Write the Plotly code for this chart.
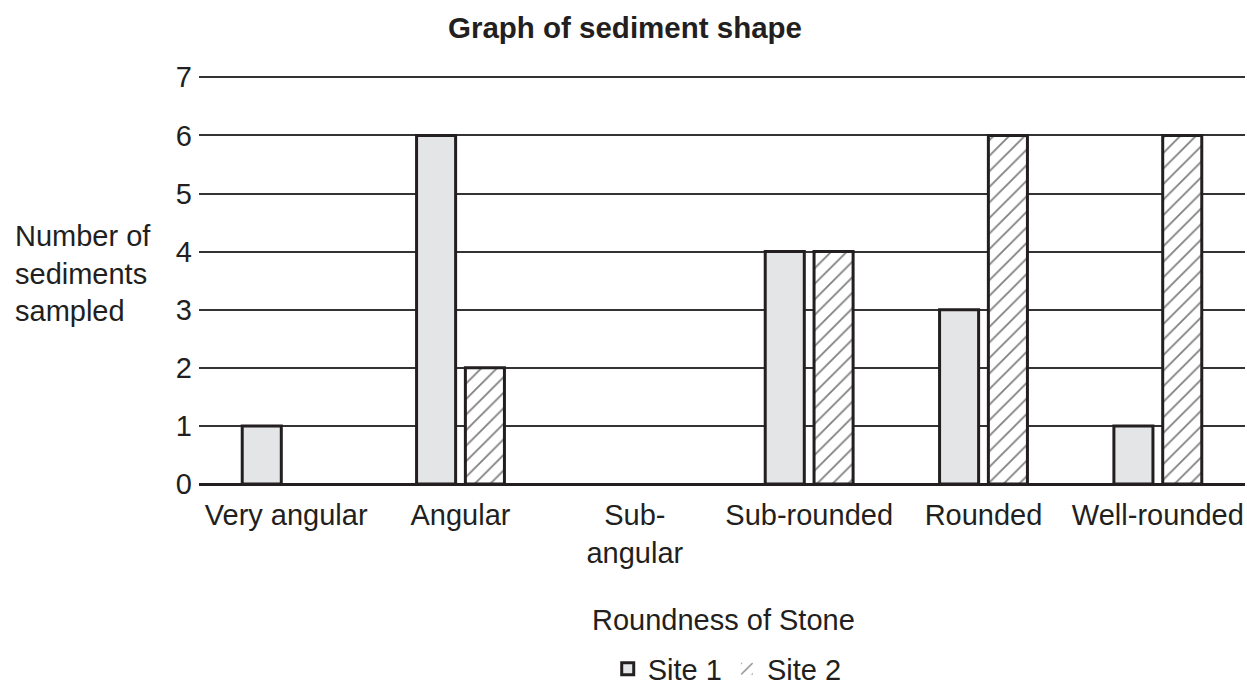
import plotly.graph_objects as go

categories = ["Very angular", "Angular", "Sub-<br>angular", "Sub-rounded", "Rounded", "Well-rounded"]
site1 = [1, 6, 0, 4, 3, 1]
site2 = [0, 2, 0, 4, 6, 6]
y_ticks = [0, 1, 2, 3, 4, 5, 6, 7]

font_family = "Liberation Sans, Arial, sans-serif"
ink = "#231f20"
fs = 29

def outline_widths(vals):
    return [0 if v == 0 else 3 for v in vals]

fig = go.Figure()
fig.add_trace(go.Bar(
    x=categories, y=site1, name="Site 1",
    marker=dict(color="#e4e5e7", line=dict(color=ink, width=outline_widths(site1))),
))
fig.add_trace(go.Bar(
    x=categories, y=site2, name="Site 2",
    marker=dict(color="white", line=dict(color=ink, width=outline_widths(site2)),
                pattern=dict(shape="/", fgcolor="#000000", bgcolor="white", size=11, solidity=0.16)),
))

fig.update_layout(
    width=1247, height=697,
    margin=dict(l=199, r=2, t=75, b=206),
    paper_bgcolor="white", plot_bgcolor="white",
    font=dict(family=font_family, size=fs, color=ink),
    barmode="group", bargap=0.44, bargroupgap=0.2,
    title=dict(text="<b>Graph of sediment shape</b>", x=0.5012, xanchor="center",
               y=0.96, yanchor="middle", font=dict(size=29.5)),
    showlegend=True,
    legend=dict(orientation="h", x=0.505, xanchor="center", y=-0.452, yanchor="middle",
                font=dict(size=fs), tracegroupgap=0, traceorder="normal"),
    xaxis=dict(showgrid=False, showline=False, ticks="", tickfont=dict(size=fs),
               zeroline=False, range=[-0.5, 5.5], ticklabelstandoff=11),
    yaxis=dict(range=[0, 7.04], tickvals=y_ticks, showgrid=True, gridcolor="#333333", gridwidth=1.5,
               zeroline=True, zerolinecolor=ink, zerolinewidth=3,
               showline=False, ticks="", ticklabelstandoff=6, tickfont=dict(size=fs)),
)

fig.add_annotation(text="Number of<br>sediments<br>sampled", xref="paper", yref="paper",
                   x=-0.1778, xanchor="left", y=0.514, yanchor="middle", showarrow=False,
                   align="left", font=dict(size=fs))
fig.add_annotation(text="Roundness of Stone", xref="paper", yref="paper",
                   x=0.501, xanchor="center", y=-0.332, yanchor="middle", showarrow=False,
                   font=dict(size=fs))

fig.write_html("out.html", config={"displayModeBar": False},
               post_script="document.body.style.margin='0';document.body.style.overflow='hidden';")
